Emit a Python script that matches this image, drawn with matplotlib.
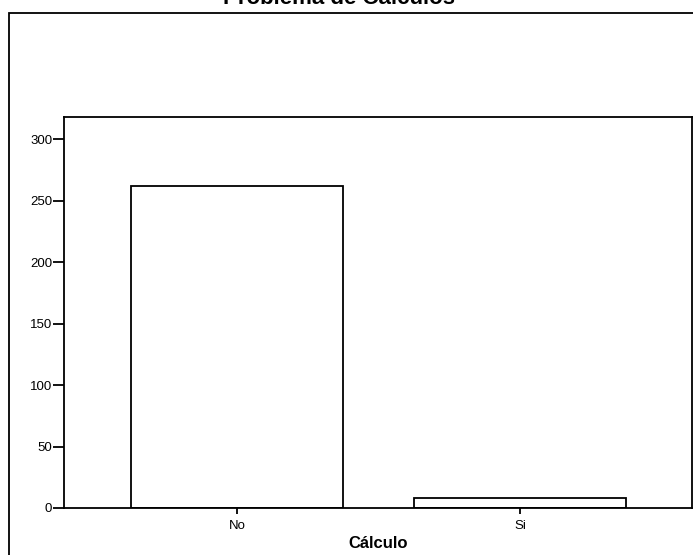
import matplotlib
matplotlib.use("Agg")
import matplotlib.pyplot as plt
from matplotlib.patches import Rectangle

categories = ["No", "Si"]
counts = [262, 8]
yticks = [0, 50, 100, 150, 200, 250, 300]

plt.rcParams['font.family'] = ['Liberation Sans', 'DejaVu Sans']

W, H = 693, 555
fig = plt.figure(figsize=(W / 100, H / 100), dpi=100)

# outer frame
fig.patches.append(Rectangle((9 / W, -0.2), 1.0, 1.2 - 13 / H,
                             transform=fig.transFigure, fill=False,
                             edgecolor='black', linewidth=1.3, clip_on=False))

ax_l, ax_r, ax_t, ax_b = 64, 692, 117, 508
ax = fig.add_axes([ax_l / W, 1 - ax_b / H, (ax_r - ax_l) / W, (ax_b - ax_t) / H])

x = list(range(len(categories)))
ax.bar(x, counts, width=0.75, color='white', edgecolor='black', linewidth=1.3)
ax.set_xlim(-0.611, 1.608)
ax.set_ylim(0, 318)
ax.set_yticks(yticks)
ax.set_yticklabels([str(v) for v in yticks], fontsize=9.5)
ax.set_xticks(x)
ax.set_xticklabels(categories, fontsize=9.5)
ax.tick_params(axis='y', direction='out', length=8, width=1.3, pad=0.5)
ax.tick_params(axis='x', direction='out', length=4.5, width=1.3, pad=4)
for s in ax.spines.values():
    s.set_linewidth(1.3)
ax.set_xlabel("Cálculo", fontsize=12, fontweight='bold', labelpad=3)

fig.text(339 / W, 1 - 4 / H, "Problema de Cálculos", ha='center', va='baseline',
         fontsize=16, fontweight='bold')

fig.savefig("out.png", dpi=100)
